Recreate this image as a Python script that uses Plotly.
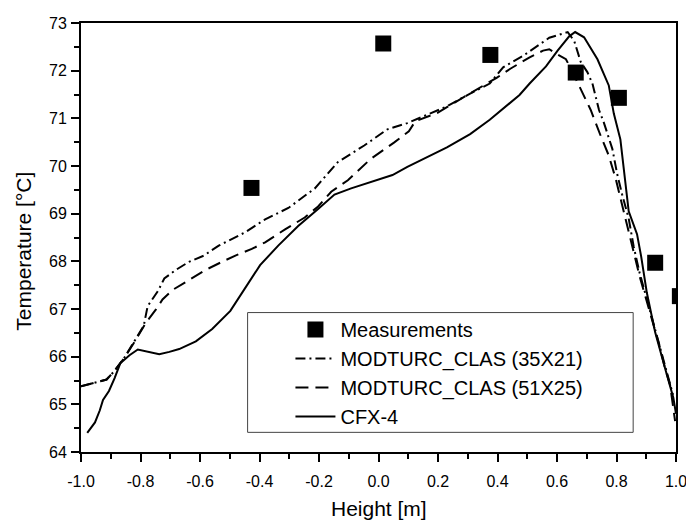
import plotly.graph_objects as go

# Measurements
meas_x = [-0.427, 0.016, 0.376, 0.663, 0.808, 0.93, 1.013]
meas_t = [69.54, 72.57, 72.33, 71.96, 71.43, 67.97, 67.27]

# MODTURC_CLAS (35X21) - dash-dot
m35_x = [-1.0, -0.914, -0.889, -0.856, -0.822, -0.789, -0.776, -0.742, -0.72, -0.681,
         -0.637, -0.587, -0.537, -0.448, -0.381, -0.303, -0.214, -0.137, -0.048, 0.03,
         0.097, 0.152, 0.23, 0.308, 0.374, 0.419, 0.486, 0.574, 0.636, 0.658, 0.68,
         0.702, 0.719, 0.741, 0.758, 0.786, 0.802, 0.819, 0.841, 0.858, 0.878, 0.9,
         0.922, 0.944, 0.963, 0.99]
m35_t = [65.38, 65.52, 65.69, 65.96, 66.31, 66.65, 67.06, 67.37, 67.64, 67.82,
         67.99, 68.12, 68.33, 68.61, 68.88, 69.12, 69.53, 70.08, 70.43, 70.77,
         70.90, 71.04, 71.25, 71.52, 71.73, 72.07, 72.31, 72.69, 72.81, 72.62, 72.18,
         71.97, 71.73, 71.18, 70.90, 70.36, 69.84, 69.40, 68.90, 68.30, 67.75, 67.25,
         66.75, 66.25, 65.80, 65.20]

# MODTURC_CLAS (51X25) - dashed
m51_x = [-1.0, -0.914, -0.889, -0.856, -0.82, -0.781, -0.748, -0.726, -0.692, -0.637,
         -0.581, -0.526, -0.481, -0.426, -0.381, -0.314, -0.248, -0.203, -0.159, -0.103,
         -0.026, 0.052, 0.102, 0.124, 0.197, 0.274, 0.336, 0.397, 0.443, 0.508, 0.553,
         0.574, 0.591, 0.63, 0.647, 0.686, 0.713, 0.747, 0.774, 0.797, 0.813, 0.83,
         0.847, 0.858, 0.878, 0.9, 0.922, 0.944, 0.963, 0.98, 0.997]
m51_t = [65.38, 65.52, 65.69, 65.96, 66.31, 66.72, 66.99, 67.20, 67.40, 67.61,
         67.82, 67.99, 68.12, 68.26, 68.40, 68.67, 68.92, 69.15, 69.46, 69.70,
         70.15, 70.49, 70.73, 70.94, 71.11, 71.40, 71.62, 71.85, 72.04, 72.28, 72.42,
         72.45, 72.38, 72.24, 72.04, 71.52, 71.18, 70.63, 70.22, 69.74, 69.33, 68.92,
         68.45, 68.20, 67.68, 67.20, 66.72, 66.24, 65.76, 65.41, 64.65]

# CFX-4 - solid
cfx_x = [-0.979, -0.953, -0.937, -0.926, -0.906, -0.887, -0.868, -0.837, -0.809, -0.776,
         -0.737, -0.703, -0.67, -0.614, -0.559, -0.498, -0.448, -0.398, -0.337, -0.27,
         -0.203, -0.148, -0.092, 0.047, 0.097, 0.23, 0.308, 0.374, 0.474, 0.508, 0.563,
         0.602, 0.641, 0.661, 0.691, 0.736, 0.774, 0.791, 0.813, 0.828, 0.841, 0.869,
         0.883, 0.902, 0.93, 0.963, 0.991, 1.0]
cfx_t = [64.40, 64.62, 64.87, 65.09, 65.28, 65.55, 65.86, 66.03, 66.15, 66.10,
         66.05, 66.10, 66.16, 66.32, 66.58, 66.96, 67.44, 67.92, 68.33, 68.74,
         69.10, 69.40, 69.53, 69.81, 69.98, 70.39, 70.67, 70.97, 71.49, 71.73, 72.09,
         72.42, 72.72, 72.81, 72.70, 72.24, 71.69, 71.10, 70.56, 69.74, 69.05, 68.57,
         68.10, 67.34, 66.51, 65.76, 65.14, 64.80]

# Tick labels (plain hyphen minus as in the reference)
x_tick_vals = [-1.0, -0.8, -0.6, -0.4, -0.2, 0.0, 0.2, 0.4, 0.6, 0.8, 1.0]
x_tick_text = ["-1.0", "-0.8", "-0.6", "-0.4", "-0.2", "0.0", "0.2", "0.4", "0.6", "0.8", "1.0"]
y_tick_vals = [64, 65, 66, 67, 68, 69, 70, 71, 72, 73]
y_tick_text = ["64", "65", "66", "67", "68", "69", "70", "71", "72", "73"]

FONT = "Liberation Sans, Arial, sans-serif"

fig = go.Figure()
fig.add_trace(go.Scatter(x=meas_x, y=meas_t, mode="markers", name="Measurements",
                         legendgroup="a",
                         marker=dict(symbol="square", size=16, color="black")))
fig.add_trace(go.Scatter(x=m35_x, y=m35_t, mode="lines", name="MODTURC_CLAS (35X21)",
                         legendgroup="b",
                         line=dict(color="black", width=2, dash="10px,4px,2px,4px")))
fig.add_trace(go.Scatter(x=m51_x, y=m51_t, mode="lines", name="MODTURC_CLAS (51X25)",
                         legendgroup="c",
                         line=dict(color="black", width=2, dash="13px,7px")))
fig.add_trace(go.Scatter(x=cfx_x, y=cfx_t, mode="lines", name="CFX-4",
                         legendgroup="d",
                         line=dict(color="black", width=2)))

axis_common = dict(showgrid=False, zeroline=False, showline=True, linecolor="black",
                   linewidth=2, mirror=True, ticks="outside", ticklen=8, tickwidth=2,
                   tickcolor="black", tickfont=dict(family=FONT, size=16, color="black"))

fig.update_xaxes(range=[-1.0, 1.0], tickmode="array", tickvals=x_tick_vals,
                 ticktext=x_tick_text, ticklabelstandoff=6,
                 minor=dict(dtick=0.1, tick0=-1.0, ticklen=5, tickwidth=2,
                            tickcolor="black", ticks="outside"),
                 **axis_common)
fig.update_yaxes(range=[64, 73], tickmode="array", tickvals=y_tick_vals,
                 ticktext=y_tick_text, ticklabelstandoff=1,
                 minor=dict(dtick=0.5, tick0=64, ticklen=5, tickwidth=2,
                            tickcolor="black", ticks="outside"),
                 **axis_common)

fig.add_shape(type="rect", xref="paper", yref="paper", x0=0.28, x1=0.928, y0=0.0458, y1=0.325,
              line=dict(color="#444444", width=1), fillcolor="white", layer="below")

fig.add_annotation(text="Height [m]", xref="paper", yref="paper", x=0.5, y=0, yshift=-56,
                   showarrow=False, yanchor="middle",
                   font=dict(family=FONT, size=21, color="black"))
fig.add_annotation(text="Temperature [°C]", xref="paper", yref="paper", x=0, xshift=-57,
                   y=0.467, showarrow=False, textangle=-90, xanchor="center",
                   font=dict(family=FONT, size=21, color="black"))

# the page body adds an 8px offset; size and margins compensate for it
fig.update_layout(
    width=686, height=516,
    margin=dict(l=73, r=13, t=7, b=72),
    paper_bgcolor="white", plot_bgcolor="white",
    showlegend=True,
    legend=dict(x=0.352, y=0.331, xanchor="left", yanchor="top",
                bgcolor="rgba(0,0,0,0)", borderwidth=0,
                font=dict(family=FONT, size=20, color="black"),
                tracegroupgap=0, itemwidth=40),
)

fig.write_html("out.html")
